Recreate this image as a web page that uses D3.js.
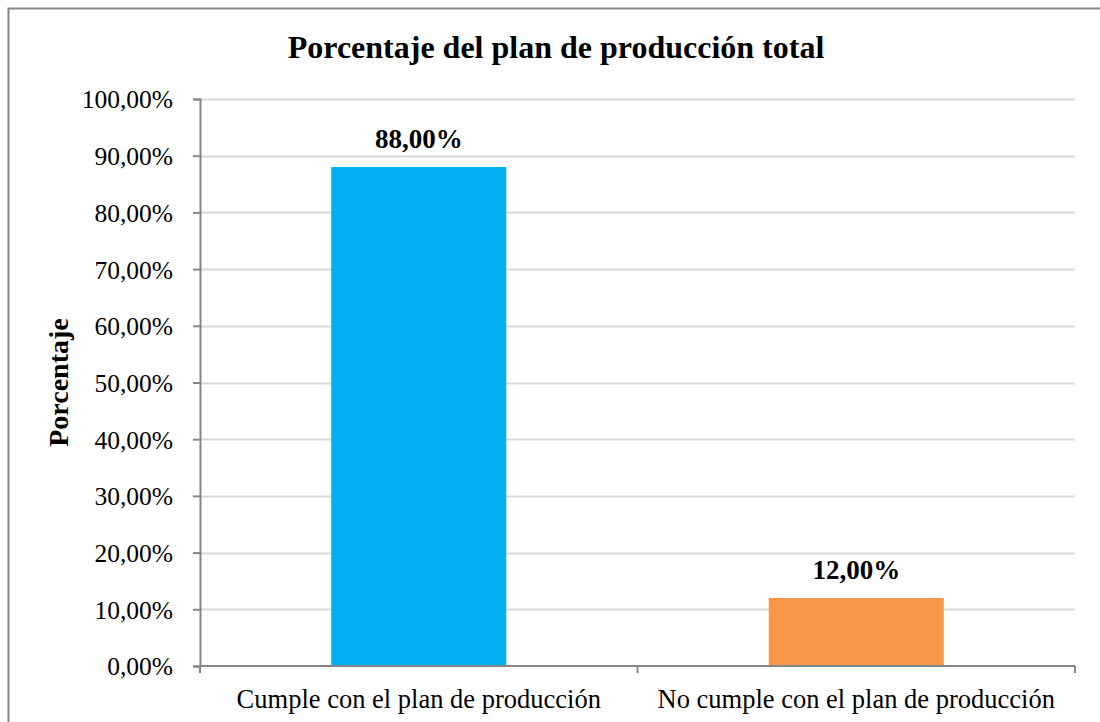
<!DOCTYPE html>
<html>
<head>
<meta charset="utf-8">
<script src="https://cdn.jsdelivr.net/npm/d3@7"></script>
<style>
  html, body { margin: 0; padding: 0; background: #fff; }
  svg { display: block; font-family: "Liberation Serif", "Times New Roman", serif; }
</style>
</head>
<body>
<svg id="chart" width="1100" height="722"></svg>
<script>
// Chart data
const categories = ["Cumple con el plan de producción", "No cumple con el plan de producción"];
const values = [0.88, 0.12];
const barColors = ["#00b0f0", "#f79646"];
const yTicks = [0, 0.1, 0.2, 0.3, 0.4, 0.5, 0.6, 0.7, 0.8, 0.9, 1.0];
const chartTitle = "Porcentaje del plan de producción total";
const yTitle = "Porcentaje";

const svg = d3.select("#chart");
const margin = { left: 200, right: 25, top: 99, bottom: 56 };
const W = 1100, H = 722;
const x0 = margin.left, x1 = W - margin.right;
const yTop = margin.top, yBot = H - margin.bottom;

// outer chart frame
svg.append("rect")
  .attr("x", 8.5).attr("y", 8.5)
  .attr("width", 1110).attr("height", 730)
  .attr("fill", "none").attr("stroke", "#868686").attr("stroke-width", 2);

const fmt = v => (v * 100).toFixed(2).replace(".", ",") + "%";

const y = d3.scaleLinear().domain([0, 1]).range([yBot, yTop]);
const xBand = d3.scaleBand().domain(categories).range([x0, x1]).paddingInner(0.6).paddingOuter(0.3);
const xCat = d3.scaleBand().domain(categories).range([x0, x1]).padding(0);

// gridlines
svg.append("g").selectAll("line").data(yTicks.filter(d => d > 0)).join("line")
  .attr("x1", x0).attr("x2", x1)
  .attr("y1", d => Math.round(y(d)) + 0.5).attr("y2", d => Math.round(y(d)) + 0.5)
  .attr("stroke", "#d9d9d9").attr("stroke-width", 2);

// bars
svg.append("g").selectAll("rect").data(values).join("rect")
  .attr("x", (d, i) => xBand(categories[i]))
  .attr("width", xBand.bandwidth())
  .attr("y", d => y(d))
  .attr("height", d => yBot - y(d))
  .attr("fill", (d, i) => barColors[i]);

// y axis
const yAxis = svg.append("g")
  .attr("transform", `translate(${x0},0)`)
  .call(d3.axisLeft(y).tickValues(yTicks).tickFormat(fmt).tickSize(7).tickPadding(20));
yAxis.select(".domain").attr("stroke", "#868686").attr("stroke-width", 2);
yAxis.selectAll(".tick line").attr("stroke", "#868686").attr("stroke-width", 2);
yAxis.selectAll(".tick text").attr("font-size", 25.5).attr("fill", "#000")
  .attr("font-family", "Liberation Serif, serif").attr("dy", "0.35em");

// x axis baseline and category boundary ticks
const xAxisG = svg.append("g");
xAxisG.append("line")
  .attr("x1", x0).attr("x2", x1).attr("y1", yBot).attr("y2", yBot)
  .attr("stroke", "#868686").attr("stroke-width", 2);
const bounds = categories.map(c => xCat(c)).concat([x1]);
xAxisG.selectAll("line.tk").data(bounds).join("line").attr("class", "tk")
  .attr("x1", d => d).attr("x2", d => d).attr("y1", yBot).attr("y2", yBot + 7)
  .attr("stroke", "#868686").attr("stroke-width", 2);
xAxisG.selectAll("text").data(categories).join("text")
  .attr("x", d => xCat(d) + xCat.bandwidth() / 2)
  .attr("y", 708)
  .attr("text-anchor", "middle").attr("font-size", 26.5).attr("fill", "#000")
  .text(d => d);

// data labels
svg.append("g").selectAll("text").data(values).join("text")
  .attr("x", (d, i) => xBand(categories[i]) + xBand.bandwidth() / 2)
  .attr("y", d => y(d) - 19)
  .attr("text-anchor", "middle").attr("font-size", 27).attr("font-weight", "bold")
  .text(d => fmt(d));

// titles
svg.append("text")
  .attr("x", 556).attr("y", 58)
  .attr("text-anchor", "middle").attr("font-size", 32).attr("font-weight", "bold")
  .text(chartTitle);
svg.append("text")
  .attr("transform", `translate(68,${(yTop + yBot) / 2}) rotate(-90)`)
  .attr("text-anchor", "middle").attr("font-size", 28).attr("font-weight", "bold")
  .text(yTitle);
</script>
</body>
</html>
